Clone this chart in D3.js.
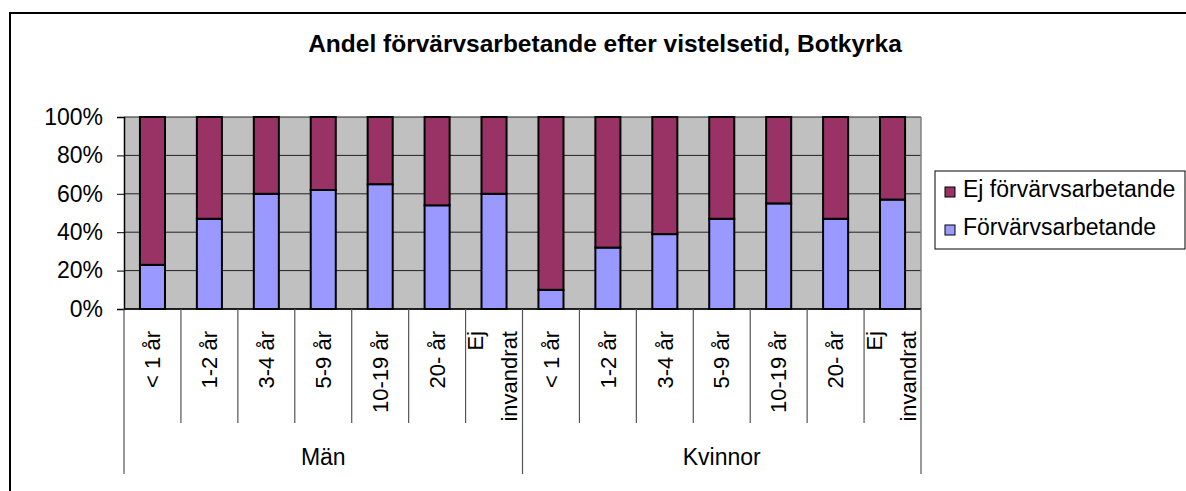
<!DOCTYPE html>
<html>
<head>
<meta charset="utf-8">
<script src="https://cdn.jsdelivr.net/npm/d3@7"></script>
<style>
  body { margin: 0; background: #fff; }
  text { font-family: "Liberation Sans", Arial, sans-serif; fill: #000; }
</style>
</head>
<body>
<div id="chart"></div>
<script>
// Data (percent)
const groups = ['Män', 'Kvinnor'];
const categories = ['< 1 år', '1-2 år', '3-4 år', '5-9 år', '10-19 år', '20- år', 'Ej invandrat'];
const manEmployed = [23, 47, 60, 62, 65, 54, 60];
const manNotEmployed = [77, 53, 40, 38, 35, 46, 40];
const kvinnorEmployed = [10, 32, 39, 47, 55, 47, 57];
const kvinnorNotEmployed = [90, 68, 61, 53, 45, 53, 43];
const seriesNames = ['Förvärvsarbetande', 'Ej förvärvsarbetande'];
const yTicks = [0, 20, 40, 60, 80, 100];

const colors = { 'Förvärvsarbetande': '#9999ff', 'Ej förvärvsarbetande': '#993366' };

// Build rows
const employed = { 'Män': manEmployed, 'Kvinnor': kvinnorEmployed };
const notEmployed = { 'Män': manNotEmployed, 'Kvinnor': kvinnorNotEmployed };
const rows = [];
groups.forEach(g => {
    categories.forEach((c, i) => {
        rows.push({
            key: g + '|' + c,
            group: g,
            cat: c,
            'Förvärvsarbetande': employed[g][i],
            'Ej förvärvsarbetande': notEmployed[g][i]
        });
    });
});

const W = 1186, H = 491;
const svg = d3.select('#chart').append('svg')
    .attr('width', W)
    .attr('height', H);

// Outer chart border (runs off the right and bottom)
svg.append('rect')
    .attr('x', 10).attr('y', 13)
    .attr('width', 1200).attr('height', 500)
    .attr('fill', '#fff')
    .attr('stroke', '#000')
    .attr('stroke-width', 2);

const plot = { left: 124, right: 921, top: 117, bottom: 309 };

const x = d3.scaleBand()
    .domain(rows.map(d => d.key))
    .range([plot.left, plot.right])
    .paddingInner(0.56)
    .paddingOuter(0.28);
const step = x.step();
const edge = k => x(k) - step * 0.28;

const y = d3.scaleLinear()
    .domain([0, 100])
    .range([plot.bottom, plot.top]);

// Plot background
svg.append('rect')
    .attr('x', plot.left).attr('y', plot.top)
    .attr('width', plot.right - plot.left)
    .attr('height', plot.bottom - plot.top)
    .attr('fill', '#c0c0c0');

// Gridlines
svg.append('g')
    .selectAll('line')
    .data(yTicks)
    .enter()
    .append('line')
    .attr('x1', plot.left).attr('x2', plot.right)
    .attr('y1', d => y(d)).attr('y2', d => y(d))
    .attr('stroke', '#222')
    .attr('stroke-width', 1);

// Right border of plot area
svg.append('line')
    .attr('x1', plot.right).attr('x2', plot.right)
    .attr('y1', plot.top).attr('y2', plot.bottom)
    .attr('stroke', '#808080')
    .attr('stroke-width', 1.5);

// Stacked bars
const stacked = d3.stack().keys(seriesNames)(rows);
svg.append('g')
    .selectAll('g')
    .data(stacked)
    .enter()
    .append('g')
    .attr('fill', d => colors[d.key])
    .selectAll('rect')
    .data(d => d)
    .enter()
    .append('rect')
    .attr('x', d => x(d.data.key))
    .attr('y', d => y(d[1]))
    .attr('width', x.bandwidth())
    .attr('height', d => y(d[0]) - y(d[1]))
    .attr('stroke', '#000')
    .attr('stroke-width', 2);

// Y axis
const yAxis = svg.append('g')
    .attr('transform', `translate(${plot.left},0)`)
    .call(d3.axisLeft(y).tickValues(yTicks).tickSize(7).tickPadding(14).tickFormat(d => d + '%'));
yAxis.select('.domain').attr('stroke', '#000').attr('stroke-width', 1.5);
yAxis.selectAll('.tick line').attr('stroke', '#000');
yAxis.selectAll('text')
    .style('font-size', '23px')
    .style('font-family', '"Liberation Sans", Arial, sans-serif');

// Category axis baseline
svg.append('line')
    .attr('x1', plot.left).attr('x2', plot.right)
    .attr('y1', plot.bottom).attr('y2', plot.bottom)
    .attr('stroke', '#000')
    .attr('stroke-width', 1.5);

// Category separators (inner ones shorter, group edges longer)
const sepX = rows.map(d => edge(d.key)).concat([plot.right]);
const groupEdgeIdx = [0, categories.length, rows.length];
svg.append('g')
    .selectAll('line')
    .data(sepX)
    .enter()
    .append('line')
    .attr('x1', d => d).attr('x2', d => d)
    .attr('y1', plot.bottom)
    .attr('y2', (d, i) => groupEdgeIdx.includes(i) ? 474 : 423)
    .attr('stroke', '#555')
    .attr('stroke-width', 1.2);

// Rotated category labels
const labelTop = 331;
const catLabels = svg.append('g')
    .selectAll('text')
    .data(rows)
    .enter()
    .append('text')
    .attr('transform', d => `translate(${x(d.key) + x.bandwidth() / 2},${labelTop}) rotate(-90)`)
    .attr('text-anchor', 'end')
    .style('font-size', '22px');

catLabels.each(function(d) {
    const t = d3.select(this);
    const words = d.cat.split(' ');
    if (d.cat === 'Ej invandrat') {
        t.append('tspan').attr('x', 0).attr('y', -11).text(words[0]);
        t.append('tspan').attr('x', 0).attr('y', 23).text(words[1]);
    } else {
        t.append('tspan').attr('x', 0).attr('y', 0).attr('dy', '0.35em').text(d.cat);
    }
});

// Group labels
svg.append('g')
    .selectAll('text')
    .data(groups)
    .enter()
    .append('text')
    .attr('x', (g, i) => {
        const a = sepX[groupEdgeIdx[i]];
        const b = sepX[groupEdgeIdx[i + 1]];
        return (a + b) / 2;
    })
    .attr('y', 465)
    .attr('text-anchor', 'middle')
    .style('font-size', '23px')
    .text(d => d);

// Title
svg.append('text')
    .attr('x', 605)
    .attr('y', 52)
    .attr('text-anchor', 'middle')
    .style('font-size', '24.5px')
    .style('font-weight', 'bold')
    .text('Andel förvärvsarbetande efter vistelsetid, Botkyrka');

// Legend
const legend = svg.append('g');
legend.append('rect')
    .attr('x', 935).attr('y', 171)
    .attr('width', 250).attr('height', 78)
    .attr('fill', '#fff')
    .attr('stroke', '#000')
    .attr('stroke-width', 1);

const legendItems = seriesNames.slice().reverse();
const li = legend.selectAll('g.item')
    .data(legendItems)
    .enter()
    .append('g')
    .attr('class', 'item')
    .attr('transform', (d, i) => `translate(945,${192 + i * 38})`);
li.append('rect')
    .attr('x', 0).attr('y', -5)
    .attr('width', 10).attr('height', 10)
    .attr('fill', d => colors[d])
    .attr('stroke', '#000')
    .attr('stroke-width', 1);
li.append('text')
    .attr('x', 18)
    .attr('y', 5)
    .style('font-size', '23px')
    .text(d => d);
</script>
</body>
</html>
